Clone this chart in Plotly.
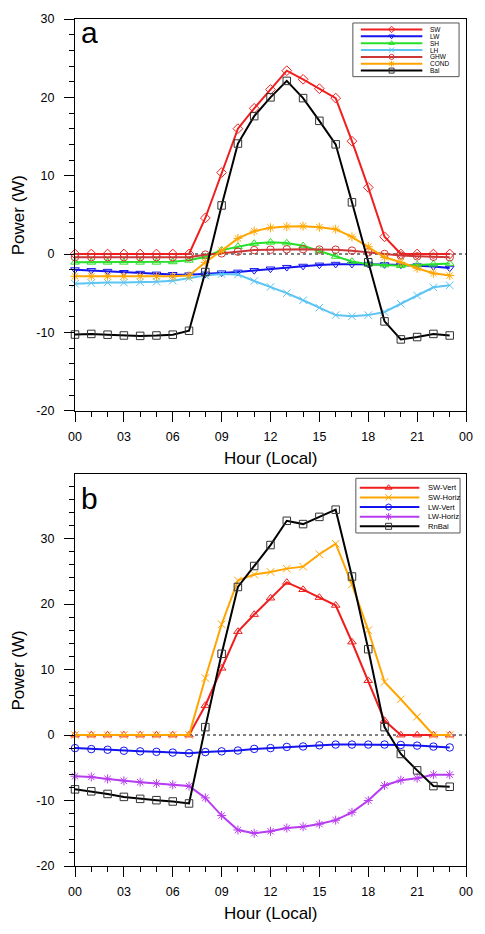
import plotly.graph_objects as go

# ---------------- data ----------------
hours = list(range(24))

# panel a
SW = [0, 0, 0, 0, 0, 0, 0, 0, 4.6, 10.4, 16.0, 18.6, 21.0, 23.4, 22.3, 21.1, 19.9, 14.4, 8.5, 2.2, 0, 0, 0, 0]
LW = [-2.0, -2.1, -2.2, -2.35, -2.45, -2.55, -2.6, -2.65, -2.55, -2.4, -2.3, -2.1, -1.9, -1.7, -1.55, -1.4, -1.3, -1.3, -1.3, -1.35, -1.4, -1.5, -1.6, -1.8]
SH = [-1.05, -1.05, -1.05, -1.05, -1.05, -1.05, -1.0, -0.8, -0.35, 0.5, 0.95, 1.35, 1.5, 1.4, 1.05, 0.4, -0.3, -0.95, -1.3, -1.4, -1.5, -1.4, -1.3, -1.2]
LH = [-3.8, -3.7, -3.65, -3.65, -3.6, -3.55, -3.4, -3.05, -2.75, -2.55, -2.6, -3.45, -4.2, -5.0, -5.9, -6.85, -7.8, -7.95, -7.8, -7.4, -6.35, -5.3, -4.25, -4.0]
GHW = [-0.4, -0.4, -0.4, -0.4, -0.4, -0.4, -0.4, -0.4, -0.08, 0.08, 0.3, 0.5, 0.55, 0.6, 0.62, 0.57, 0.55, 0.43, 0.22, 0.0, -0.2, -0.3, -0.35, -0.42]
COND = [-2.85, -2.85, -2.85, -2.85, -2.85, -2.85, -2.85, -2.75, -1.05, 0.42, 2.0, 2.92, 3.35, 3.5, 3.55, 3.42, 3.17, 2.2, 0.93, -0.42, -1.06, -1.82, -2.45, -2.75]
Bal = [-10.28, -10.2, -10.3, -10.4, -10.45, -10.4, -10.3, -9.8, -2.3, 6.2, 14.1, 17.6, 20.0, 22.1, 19.9, 17.0, 14.0, 6.6, -1.05, -8.6, -10.9, -10.6, -10.2, -10.4]

# panel b
SW_Vert = [0, 0, 0, 0, 0, 0, 0, 0, 4.5, 10.2, 15.8, 18.4, 20.9, 23.3, 22.2, 21.0, 19.8, 14.2, 8.3, 2.2, 0, 0, 0, 0]
SW_Horiz = [0, 0, 0, 0, 0, 0, 0, 0, 8.7, 16.9, 23.6, 24.5, 24.9, 25.4, 25.7, 27.6, 29.2, 23.0, 16.0, 8.1, 5.45, 2.8, 0, 0]
LW_Vert = [-2.0, -2.15, -2.25, -2.4, -2.5, -2.57, -2.68, -2.78, -2.6, -2.5, -2.37, -2.12, -2.0, -1.82, -1.75, -1.57, -1.46, -1.46, -1.46, -1.46, -1.52, -1.62, -1.77, -1.9]
LW_Horiz = [-6.3, -6.4, -6.7, -7.0, -7.2, -7.4, -7.6, -7.8, -9.6, -12.3, -14.5, -15.0, -14.7, -14.2, -14.0, -13.6, -13.0, -11.8, -10.0, -7.7, -6.9, -6.6, -6.06, -6.06]
RnBal = [-8.3, -8.6, -9.0, -9.45, -9.75, -9.95, -10.15, -10.45, 1.2, 12.4, 22.6, 25.8, 29.0, 32.7, 32.2, 33.3, 34.4, 24.2, 13.1, 1.2, -2.9, -5.4, -7.8, -7.9]

x_tickvals = [0, 3, 6, 9, 12, 15, 18, 21, 24]
x_ticktext = ["00", "03", "06", "09", "12", "15", "18", "21", "00"]
y_tickvals = [-20, -10, 0, 10, 20, 30]
y_ticktext = ["-20", "-10", "0", "10", "20", "30"]

series_a = [
    ("SW", SW, "#F01E1E", "diamond-open"),
    ("LW", LW, "#1414F0", "triangle-down-open"),
    ("SH", SH, "#28E028", "triangle-up-open"),
    ("LH", LH, "#5CC4F2", "x-thin-open"),
    ("GHW", GHW, "#CC3838", "circle-open"),
    ("COND", COND, "#FFA500", "asterisk-open"),
    ("Bal", Bal, "#000000", "square-open"),
]
series_b = [
    ("SW-Vert", SW_Vert, "#F01E1E", "triangle-up-open"),
    ("SW-Horiz", SW_Horiz, "#FFA500", "x-thin-open"),
    ("LW-Vert", LW_Vert, "#1414F0", "circle-open"),
    ("LW-Horiz", LW_Horiz, "#B83CF0", "asterisk-open"),
    ("RnBal", RnBal, "#000000", "square-open"),
]

# ---------------- layout geometry (pixels) ----------------
W, H = 485, 934
L, R, T, B = 75, 16, 14, 68
PX0, PX1 = L, W - R          # plot area x
PY0, PY1 = T, H - B          # plot area y
A_TOP, A_BOT = 14, 408
B_TOP, B_BOT = 472, 866
FONT = "Liberation Sans, Arial, Helvetica, sans-serif"


def dom(top, bot):
    return [(PY1 - bot) / (PY1 - PY0), (PY1 - top) / (PY1 - PY0)]


def pxp(px):
    return (px - PX0) / (PX1 - PX0)


def pyp(py):
    return (PY1 - py) / (PY1 - PY0)


fig = go.Figure()


def add_series(series, xa, ya):
    for name, vals, col, sym in series:
        mcol = "#333333" if col == "#000000" else col
        fig.add_trace(go.Scatter(
            x=hours, y=vals, mode="lines+markers", name=name,
            xaxis=xa, yaxis=ya, showlegend=False, cliponaxis=False,
            line=dict(color=col, width=2),
            marker=dict(symbol=sym, size=7.5, color=mcol,
                        line=dict(color=mcol, width=1)),
        ))


add_series(series_a, "x", "y")
add_series(series_b, "x2", "y2")


# legend drawn in pixel-coordinate overlay axes
def add_legend(series, box, x_line0, x_line1, x_mark, x_text, y_first, dy, fsize, msize):
    x0, y0, x1, y1 = box
    fig.add_shape(type="rect", xref="x3", yref="y3", x0=x0, x1=x1, y0=y0, y1=y1,
                  line=dict(color="#555555", width=1), fillcolor="white", layer="below")
    for i, (name, vals, col, sym) in enumerate(series):
        yy = y_first + i * dy
        mcol = "#333333" if col == "#000000" else col
        fig.add_trace(go.Scatter(x=[x_line0, x_line1], y=[yy, yy], mode="lines",
                                 xaxis="x3", yaxis="y3", showlegend=False, hoverinfo="skip",
                                 line=dict(color=col, width=2)))
        fig.add_trace(go.Scatter(x=[x_mark], y=[yy], mode="markers",
                                 xaxis="x3", yaxis="y3", showlegend=False, hoverinfo="skip",
                                 marker=dict(symbol=sym, size=msize, color=mcol,
                                             line=dict(color=mcol, width=1))))
        fig.add_annotation(xref="x3", yref="y3", x=x_text, y=yy, text=name,
                           showarrow=False, xanchor="left", yanchor="middle", borderpad=0,
                           font=dict(family=FONT, size=fsize, color="black"))


add_legend(series_a, (355, 18, 462, 72), 363, 425, 394, 432, 24.5, 6.9, 6.5, 5)
add_legend(series_b, (358, 476, 463, 531), 362, 422, 391, 430, 485.5, 9.7, 7.6, 6)

# zero dashed lines
for xr, yr in (("x", "y"), ("x2", "y2")):
    fig.add_shape(type="line", xref=xr, yref=yr, x0=0, x1=24, y0=0, y1=0,
                  line=dict(color="black", width=1, dash="3px,3px"), layer="below")

axis_common = dict(showline=True, linecolor="black", linewidth=1.3, mirror=True,
                   ticks="outside", ticklen=10, tickwidth=1.2, tickcolor="black",
                   showgrid=False, zeroline=False,
                   tickfont=dict(family=FONT, size=12.5, color="black"))

xa = dict(axis_common, range=[0, 24], tickmode="array", tickvals=x_tickvals, ticktext=x_ticktext,
          minor=dict(ticks="outside", ticklen=5, dtick=1, tick0=0, tickcolor="black", tickwidth=1),
          ticklabelstandoff=4)
ya_common = dict(axis_common, tickmode="array", tickvals=y_tickvals, ticktext=y_ticktext,
                 minor=dict(ticks="outside", ticklen=5, dtick=2, tick0=0, tickcolor="black", tickwidth=1),
                 ticklabelstandoff=7)

fig.update_layout(
    width=W, height=H,
    margin=dict(l=L, r=R, t=T, b=B),
    paper_bgcolor="white", plot_bgcolor="rgba(0,0,0,0)",
    font=dict(family=FONT, color="black"),
    xaxis=dict(xa, anchor="y", domain=[0, 1]),
    yaxis=dict(ya_common, anchor="x", domain=dom(A_TOP, A_BOT), range=[-20, 30]),
    xaxis2=dict(xa, anchor="y2", domain=[0, 1]),
    yaxis2=dict(ya_common, anchor="x2", domain=dom(B_TOP, B_BOT), range=[-20, 39.8]),
    xaxis3=dict(domain=[0, 1], range=[PX0, PX1], visible=False, anchor="y3", fixedrange=True),
    yaxis3=dict(domain=[0, 1], range=[PY1, PY0], visible=False, anchor="x3", fixedrange=True),
    showlegend=False,
)

# panel letters and axis titles (paper coordinates from pixels)
for letter, cy in (("a", A_TOP + 14), ("b", B_TOP + 24)):
    fig.add_annotation(xref="paper", yref="paper", x=pxp(79), y=pyp(cy), text=letter,
                       showarrow=False, xanchor="left", yanchor="middle",
                       font=dict(family=FONT, size=30, color="black"))
for top, bot in ((A_TOP, A_BOT), (B_TOP, B_BOT)):
    fig.add_annotation(xref="paper", yref="paper", x=pxp(18), y=pyp((top + bot) / 2),
                       text="Power (W)", textangle=-90, showarrow=False,
                       xanchor="center", yanchor="middle",
                       font=dict(family=FONT, size=17, color="black"))
    fig.add_annotation(xref="paper", yref="paper", x=pxp((PX0 + PX1) / 2), y=pyp(bot + 48),
                       text="Hour (Local)", showarrow=False,
                       xanchor="center", yanchor="middle",
                       font=dict(family=FONT, size=17, color="black"))

fig.write_html("out.html", config={"displayModeBar": False},
               post_script="document.body.style.margin='0';document.body.style.overflow='hidden';")
